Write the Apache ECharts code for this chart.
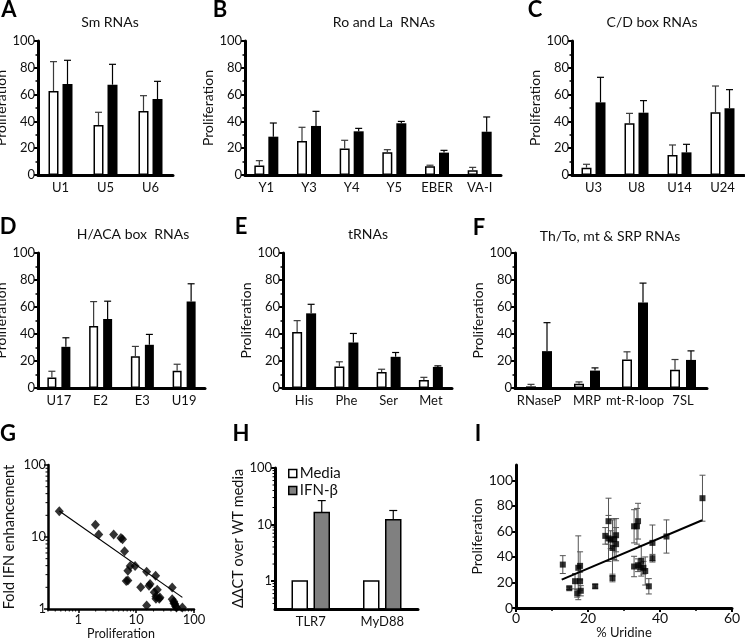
<!DOCTYPE html>
<html><head><meta charset="utf-8">
<script src="https://cdn.jsdelivr.net/npm/echarts@6/dist/echarts.min.js"></script>
<style>html,body{margin:0;padding:0;background:#fff}#c{width:745px;height:641px}</style>
</head><body><div id="c"></div>
<script>
const FONT = 'Lato';
// ---------- DATA ----------
// A: Sm RNAs
const aCats = ['U1', 'U5', 'U6'];
const aWhite = [62.7, 37.3, 47.8];
const aWhiteErr = [21.9, 9.5, 11.4];
const aBlack = [67.9, 67.4, 56.7];
const aBlackErr = [17.7, 15.2, 13.2];
// B: Ro and La RNAs
const bCats = ['Y1', 'Y3', 'Y4', 'Y5', 'EBER', 'VA-I'];
const bWhite = [7, 25.4, 19.7, 16.9, 6.5, 3.5];
const bWhiteErr = [3.7, 10.2, 6.2, 2, 0.8, 2.2];
const bBlack = [28.6, 36.6, 32.6, 38.6, 16.7, 32.3];
const bBlackErr = [10.2, 10.9, 2.2, 1.4, 1.7, 11];
// C: C/D box RNAs
const cCats = ['U3', 'U8', 'U14', 'U24'];
const cWhite = [5.5, 38.6, 14.9, 46.8];
const cWhiteErr = [2.5, 7.4, 7.5, 19.6];
const cBlack = [54.2, 46.5, 16.9, 49.8];
const cBlackErr = [18.7, 9, 6, 13.9];
// D: H/ACA box RNAs
const dCats = ['U17', 'E2', 'E3', 'U19'];
const dWhite = [7.7, 45.9, 23.6, 12.7];
const dWhiteErr = [4.7, 18.1, 7.2, 4.9];
const dBlack = [30.5, 51.1, 32, 64];
const dBlackErr = [6.7, 13.2, 7.7, 13.2];
// E: tRNAs
const eCats = ['His', 'Phe', 'Ser', 'Met'];
const eWhite = [41.4, 15.9, 11.9, 6];
const eWhiteErr = [8.5, 3.5, 2, 1.9];
const eBlack = [55.3, 33.7, 23.1, 15.6];
const eBlackErr = [6.7, 6.7, 3.2, 0.8];
// F: Th/To, mt & SRP RNAs
const fCats = ['RNaseP', 'MRP', 'mt-R-loop', '7SL'];
const fWhite = [1.2, 3.2, 21.1, 13.6];
const fWhiteErr = [1.5, 1.3, 5.7, 7.5];
const fBlack = [27.3, 12.9, 63.3, 20.8];
const fBlackErr = [21.1, 2, 14.4, 6.7];
// G: proliferation vs fold IFN enhancement (log-log)
const gPoints = [
  [0.47, 22.8], [1.98, 14.8], [2.26, 10.8], [4.09, 10.8], [5.46, 9.7], [5.83, 9.3],
  [6.31, 6.35], [6.74, 2.45], [7.2, 2.48], [7.2, 3.4], [7.9, 3.95], [9.6, 3.95],
  [12, 2.0], [15.2, 3.3], [15.2, 1.12], [16.7, 2.1], [17.4, 2.23], [20.6, 1.71],
  [21.7, 2.9], [22, 1.49], [23.2, 1.85], [25.1, 1.39], [25.8, 1.45], [22, 1.39],
  [42, 1.99], [42, 1.37], [44.8, 1.27], [46.6, 1.17], [48, 1.09], [49.8, 1.05],
  [63, 1.05], [45, 1.2]
];
const gFit = [[0.47, 23], [63, 1.45]];
// H: ΔΔCT over WT media
const hCats = ['TLR7', 'MyD88'];
const hMedia = [1, 1];
const hIfn = [16.3, 12.2];
const hIfnErr = [10.2, 5.5];
// I: % Uridine vs proliferation  [x, y, sd]
const iPoints = [
  [13.0, 34, 7], [14.8, 15.5, 1], [16.4, 21, 6], [17.0, 11.5, 3], [17.3, 31.5, 25],
  [17.8, 33, 11], [17.8, 21, 7], [18.0, 13.5, 4], [22.0, 17, 1.5], [24.8, 56.5, 6.5],
  [25.7, 68, 18], [25.7, 54.5, 18], [26.3, 53.5, 7], [26.8, 47, 22], [26.8, 23.5, 3],
  [27.3, 54, 16], [27.8, 57, 13], [27.8, 50, 13], [32.8, 64, 13], [32.8, 32.5, 8],
  [33.6, 64, 14], [33.9, 68, 14], [33.9, 33.5, 5], [34.5, 32, 3], [34.8, 37, 12],
  [35.4, 31.5, 5], [35.9, 29, 11], [36.9, 17, 6], [37.9, 39, 3], [37.9, 51, 14],
  [41.8, 56, 13], [51.8, 86, 18]
];
const iFit = [[12.7, 22.2], [51.7, 68.7]];

// ---------- LAYOUT ----------
const barPanels = [
  {cats: aCats, white: aWhite, whiteErr: aWhiteErr, black: aBlack, blackErr: aBlackErr,
   L: {left: 38, top: 41, width: 135, height: 134, barW: 10, gap: 4, nameGap: 23}},
  {cats: bCats, white: bWhite, whiteErr: bWhiteErr, black: bBlack, blackErr: bBlackErr,
   L: {left: 245, top: 41, width: 256, height: 134, barW: 10, gap: 4, nameGap: 21}},
  {cats: cCats, white: cWhite, whiteErr: cWhiteErr, black: cBlack, blackErr: cBlackErr,
   L: {left: 572, top: 41, width: 172, height: 134, barW: 10, gap: 4, nameGap: 25}},
  {cats: dCats, white: dWhite, whiteErr: dWhiteErr, black: dBlack, blackErr: dBlackErr,
   L: {left: 38, top: 253, width: 167, height: 135, barW: 9, gap: 5, nameGap: 24}},
  {cats: eCats, white: eWhite, whiteErr: eWhiteErr, black: eBlack, blackErr: eBlackErr,
   L: {left: 283, top: 253, width: 169, height: 135, barW: 10, gap: 4, nameGap: 26}},
  {cats: fCats, white: fWhite, whiteErr: fWhiteErr, black: fBlack, blackErr: fBlackErr,
   L: {left: 515, top: 253, width: 192, height: 135, barW: 10, gap: 6, nameGap: 28}}
];
const titles = [
  ['Sm RNAs', 110, 22], ['Ro and La  RNAs', 384, 22], ['C/D box RNAs', 652, 22],
  ['H/ACA box  RNAs', 133, 234], ['tRNAs', 368, 234], ['Th/To, mt & SRP RNAs', 610, 236]
];
const letters = [
  ['A', 9, 10], ['B', 220, 10], ['C', 535, 10], ['D', 8, 227], ['E', 241, 227],
  ['F', 479, 228], ['G', 8, 434], ['H', 241, 434], ['I', 478, 434]
];

const AX = '#000', TXT = '#111';
const grids = [], xAxes = [], yAxes = [], series = [];
const lblStyle = {fontSize: 13, color: TXT, fontFamily: FONT};
const nameStyle = {fontSize: 14, color: TXT, fontFamily: FONT};

function addGrid(L) {
  grids.push({left: L.left, top: L.top, width: L.width, height: L.height, containLabel: false, outerBoundsMode: 'none'});
  return grids.length - 1;
}

function errRender(off, capHalf) {
  return function (params, api) {
    const k = api.value(0), v = api.value(1), e = api.value(2), g = api.value(3);
    const p0 = api.coord([k, v]);
    const p1 = api.coord([k, v + e]);
    const x = p0[0] + (g === 0 ? -off : off);
    const color = g === 0 ? '#3a3a3a' : '#000';
    return {type: 'group', children: [
      {type: 'line', shape: {x1: x, y1: p0[1], x2: x, y2: p1[1]}, style: {stroke: color, lineWidth: 1.2}},
      {type: 'line', shape: {x1: x - capHalf, y1: p1[1], x2: x + capHalf, y2: p1[1]}, style: {stroke: color, lineWidth: 1.2}}
    ]};
  };
}

barPanels.forEach(function (P) {
  const L = P.L;
  const i = addGrid(L);
  xAxes.push({type: 'category', gridIndex: i, data: P.cats,
    axisLine: {lineStyle: {color: AX, width: 3}},
    axisTick: {alignWithLabel: true, length: 4, lineStyle: {width: 2, color: AX}},
    axisLabel: Object.assign({interval: 0, margin: 6, hideOverlap: false}, lblStyle)});
  yAxes.push({type: 'value', gridIndex: i, min: 0, max: 100, interval: 20,
    name: 'Proliferation', nameLocation: 'middle', nameGap: L.nameGap, nameTextStyle: nameStyle,
    axisLine: {show: true, lineStyle: {color: AX, width: 3}},
    axisTick: {show: true, length: 4, lineStyle: {width: 2, color: AX}},
    minorTick: {show: true, splitNumber: 2, length: 2.5, lineStyle: {color: AX, width: 1.5}},
    splitLine: {show: false},
    axisLabel: Object.assign({margin: 3}, lblStyle)});
  const gapPct = (L.gap / L.barW * 100) + '%';
  series.push({type: 'bar', xAxisIndex: i, yAxisIndex: i, data: P.white, barWidth: L.barW, barGap: gapPct,
    itemStyle: {color: '#fff', borderColor: '#000', borderWidth: 1.5}, silent: true, animation: false});
  series.push({type: 'bar', xAxisIndex: i, yAxisIndex: i, data: P.black, barWidth: L.barW, barGap: gapPct,
    itemStyle: {color: '#000'}, silent: true, animation: false});
  const errData = P.cats.map(function (c, k) { return [k, P.white[k], P.whiteErr[k], 0]; })
    .concat(P.cats.map(function (c, k) { return [k, P.black[k], P.blackErr[k], 1]; }));
  series.push({type: 'custom', xAxisIndex: i, yAxisIndex: i, data: errData,
    renderItem: errRender((L.barW + L.gap) / 2, 3.5), silent: true, animation: false, z: 3});
});

// minor log ticks
function logMinor(fromExp, toExp, minV, maxV) {
  const out = [];
  for (let e = fromExp; e < toExp; e++) {
    for (let m = 2; m <= 9; m++) {
      const v = m * Math.pow(10, e);
      if (v > minV && v < maxV) out.push(v);
    }
  }
  return out;
}
function minorTickSeries(gi, vals, axis, fixedOther, len) {
  return {type: 'custom', xAxisIndex: gi, yAxisIndex: gi, silent: true, animation: false, z: 4,
    data: vals.map(function (v) { return axis === 'x' ? [v, fixedOther] : [fixedOther, v]; }),
    renderItem: function (params, api) {
      const p = api.coord([api.value(0), api.value(1)]);
      const cs = params.coordSys;
      if (axis === 'x') {
        const y0 = cs.y + cs.height;
        return {type: 'line', shape: {x1: p[0], y1: y0, x2: p[0], y2: y0 + len}, style: {stroke: AX, lineWidth: 1}};
      }
      const x0 = cs.x;
      return {type: 'line', shape: {x1: x0 - len, y1: p[1], x2: x0, y2: p[1]}, style: {stroke: AX, lineWidth: 1}};
    }};
}
const logLabel = function (v) { return v >= 1 ? String(Math.round(v)) : ''; };

// ---- G ----
const gMinX = 0.3, gMinY = 1;
const gi = addGrid({left: 48, top: 465, width: 146, height: 144});
xAxes.push({type: 'log', logBase: 10, gridIndex: gi, min: gMinX, max: 100,
  name: 'Proliferation', nameLocation: 'middle', nameGap: 18, nameTextStyle: Object.assign({}, nameStyle, {fontSize: 12.5}),
  axisLine: {lineStyle: {color: AX, width: 2.5}}, axisTick: {length: 4, lineStyle: {color: AX, width: 1.5}},
  splitLine: {show: false}, axisLabel: Object.assign({formatter: logLabel, margin: 4, showMinLabel: false}, lblStyle)});
yAxes.push({type: 'log', logBase: 10, gridIndex: gi, min: gMinY, max: 100,
  name: 'Fold IFN enhancement', nameLocation: 'middle', nameGap: 31, nameTextStyle: Object.assign({}, nameStyle, {fontSize: 14.5}),
  axisLine: {show: true, lineStyle: {color: AX, width: 2.5}}, axisTick: {show: true, length: 4, lineStyle: {color: AX, width: 1.5}},
  splitLine: {show: false}, axisLabel: Object.assign({formatter: logLabel, margin: 2}, lblStyle)});
series.push(minorTickSeries(gi, logMinor(-1, 2, gMinX, 100), 'x', gMinY, 2.5));
series.push(minorTickSeries(gi, logMinor(0, 2, gMinY, 100), 'y', gMinX, 2.5));
series.push({type: 'line', xAxisIndex: gi, yAxisIndex: gi, data: gFit, symbol: 'none',
  lineStyle: {color: '#000', width: 1.2}, silent: true, animation: false, z: 2});
series.push({type: 'scatter', xAxisIndex: gi, yAxisIndex: gi, data: gPoints, symbol: 'diamond', symbolSize: [9, 10],
  itemStyle: {color: '#000'}, silent: true, animation: false, z: 5});

// ---- H ----
const hMinY = 0.32;
const hi = addGrid({left: 275, top: 468, width: 143, height: 141});
xAxes.push({type: 'category', gridIndex: hi, data: hCats,
  axisLine: {lineStyle: {color: AX, width: 3}},
  axisTick: {alignWithLabel: true, length: 4, lineStyle: {width: 2, color: AX}},
  axisLabel: Object.assign({interval: 0, margin: 6}, lblStyle)});
yAxes.push({type: 'log', logBase: 10, gridIndex: hi, min: hMinY, max: 100,
  name: 'ΔΔCT over WT media', nameLocation: 'middle', nameGap: 28, nameTextStyle: Object.assign({}, nameStyle, {fontSize: 14.5}),
  axisLine: {show: true, lineStyle: {color: AX, width: 3}}, axisTick: {show: true, length: 4, lineStyle: {color: AX, width: 2}},
  splitLine: {show: false}, axisLabel: Object.assign({formatter: logLabel, margin: 3, showMinLabel: false}, lblStyle)});
series.push(minorTickSeries(hi, logMinor(-1, 2, hMinY, 100), 'y', 0, 2.5));
const hBarW = 15, hGap = 7;
function hBarRender(fill, off) {
  return function (params, api) {
    const k = api.value(0), v = api.value(1);
    const pTop = api.coord([k, v]);
    const pBase = api.coord([k, hMinY]);
    const x = pTop[0] + off - hBarW / 2;
    return {type: 'rect', shape: {x: x, y: pTop[1], width: hBarW, height: pBase[1] - pTop[1]},
      style: {fill: fill, stroke: '#000', lineWidth: 1.5}};
  };
}
const hOff = (hBarW + hGap) / 2;
series.push({type: 'custom', name: 'Media', xAxisIndex: hi, yAxisIndex: hi,
  data: hMedia.map(function (v, k) { return [k, v]; }),
  itemStyle: {color: '#fff', borderColor: '#000', borderWidth: 1.5},
  renderItem: hBarRender('#fff', -hOff), silent: true, animation: false, z: 2});
series.push({type: 'custom', name: 'IFN-β', xAxisIndex: hi, yAxisIndex: hi,
  data: hIfn.map(function (v, k) { return [k, v]; }),
  itemStyle: {color: '#808080', borderColor: '#000', borderWidth: 1.5},
  renderItem: hBarRender('#808080', hOff), silent: true, animation: false, z: 2});
series.push({type: 'custom', xAxisIndex: hi, yAxisIndex: hi,
  data: hIfn.map(function (v, k) { return [k, v, hIfnErr[k], 1]; }),
  renderItem: errRender(hOff, 4), silent: true, animation: false, z: 3});

// ---- I ----
const ii = addGrid({left: 516, top: 465, width: 216, height: 143});
xAxes.push({type: 'value', gridIndex: ii, min: 0, max: 60, interval: 20,
  name: '% Uridine', nameLocation: 'middle', nameGap: 18, nameTextStyle: Object.assign({}, nameStyle, {fontSize: 13}),
  axisLine: {lineStyle: {color: AX, width: 3}}, axisTick: {show: true, length: 4, lineStyle: {color: AX, width: 2}},
  minorTick: {show: true, splitNumber: 2, length: 3, lineStyle: {color: AX, width: 1.5}},
  splitLine: {show: false}, axisLabel: Object.assign({margin: 3}, lblStyle, {fontSize: 14})});
yAxes.push({type: 'value', gridIndex: ii, min: 0, max: 112, interval: 20,
  name: 'Proliferation', nameLocation: 'middle', nameGap: 29, nameTextStyle: nameStyle,
  axisLine: {show: true, lineStyle: {color: AX, width: 3}}, axisTick: {show: true, length: 4, lineStyle: {color: AX, width: 2}},
  splitLine: {show: false}, axisLabel: Object.assign({margin: 3, showMaxLabel: false}, lblStyle, {fontSize: 14})});
series.push({type: 'custom', xAxisIndex: ii, yAxisIndex: ii, data: iPoints, silent: true, animation: false, z: 2,
  renderItem: function (params, api) {
    const x = api.value(0), y = api.value(1), s = api.value(2);
    const pH = api.coord([x, y + s]), pL = api.coord([x, y - s]);
    const c = '#555', cap = 3;
    return {type: 'group', children: [
      {type: 'line', shape: {x1: pH[0], y1: pH[1], x2: pL[0], y2: pL[1]}, style: {stroke: c, lineWidth: 1}},
      {type: 'line', shape: {x1: pH[0] - cap, y1: pH[1], x2: pH[0] + cap, y2: pH[1]}, style: {stroke: c, lineWidth: 1}},
      {type: 'line', shape: {x1: pL[0] - cap, y1: pL[1], x2: pL[0] + cap, y2: pL[1]}, style: {stroke: c, lineWidth: 1}}
    ]};
  }});
series.push({type: 'line', xAxisIndex: ii, yAxisIndex: ii, data: iFit, symbol: 'none',
  lineStyle: {color: '#000', width: 2}, silent: true, animation: false, z: 3});
series.push({type: 'scatter', xAxisIndex: ii, yAxisIndex: ii, data: iPoints.map(function (p) { return [p[0], p[1]]; }),
  symbol: 'rect', symbolSize: 6, itemStyle: {color: '#000'}, silent: true, animation: false, z: 5});

// ---------- TEXT ----------
const graphics = [];
titles.forEach(function (t) {
  graphics.push({type: 'text', x: t[1], y: t[2], silent: true,
    style: {text: t[0], fill: TXT, font: '14px ' + FONT, align: 'center', verticalAlign: 'middle'}});
});
letters.forEach(function (t) {
  graphics.push({type: 'text', x: t[1], y: t[2], silent: true,
    style: {text: t[0], fill: '#000', font: 'bold 22px ' + FONT, align: 'center', verticalAlign: 'middle'}});
});

const option = {
  animation: false,
  backgroundColor: '#fff',
  textStyle: {fontFamily: FONT},
  grid: grids, xAxis: xAxes, yAxis: yAxes, series: series,
  legend: {left: 283, top: 461, orient: 'vertical', itemWidth: 8, itemHeight: 8, itemGap: 2, selectedMode: false,
    textStyle: {fontSize: 15, color: TXT, fontFamily: FONT, padding: [0, 0, 0, -2]},
    data: [
      {name: 'Media', icon: 'rect', itemStyle: {color: '#fff', borderColor: '#000', borderWidth: 1.5}},
      {name: 'IFN-β', icon: 'rect', itemStyle: {color: '#808080', borderColor: '#000', borderWidth: 1.5}}
    ]},
  graphic: graphics
};
const chart = echarts.init(document.getElementById('c'));
chart.setOption(option);
</script>
</body></html>
